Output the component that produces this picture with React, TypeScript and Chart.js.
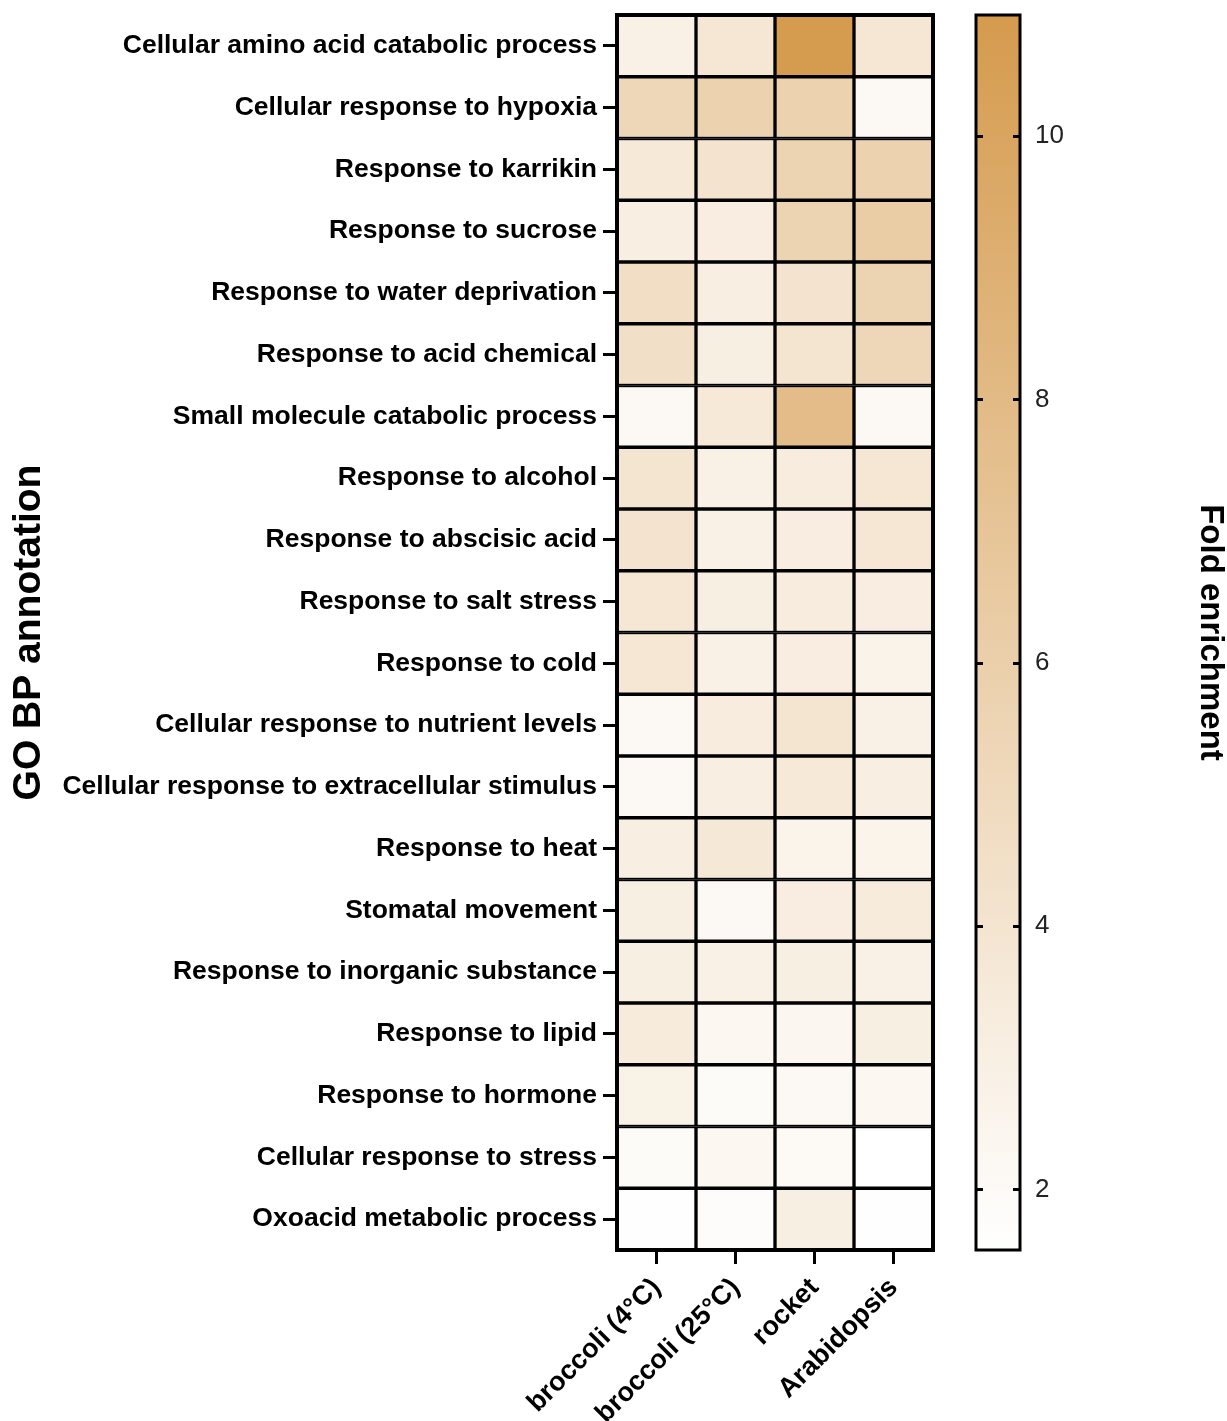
import React, { useEffect, useRef } from "react";
import { Chart, registerables } from "chart.js";

Chart.register(...registerables);

// ---- Data ----
const rowLabels = [
  "Cellular amino acid catabolic process",
  "Cellular response to hypoxia",
  "Response to karrikin",
  "Response to sucrose",
  "Response to water deprivation",
  "Response to acid chemical",
  "Small molecule catabolic process",
  "Response to alcohol",
  "Response to abscisic acid",
  "Response to salt stress",
  "Response to cold",
  "Cellular response to nutrient levels",
  "Cellular response to extracellular stimulus",
  "Response to heat",
  "Stomatal movement",
  "Response to inorganic substance",
  "Response to lipid",
  "Response to hormone",
  "Cellular response to stress",
  "Oxoacid metabolic process",
];

const columnLabels = ["broccoli (4°C)", "broccoli (25°C)", "rocket", "Arabidopsis"];

const broccoli4C = [2.9, 5.3, 3.6, 3.1, 4.6, 4.5, 2.2, 4.0, 4.1, 3.8, 3.8, 2.2, 2.2, 3.1, 3.0, 3.0, 3.4, 2.8, 1.9, 1.6];
const broccoli25C = [3.8, 5.8, 4.1, 3.2, 3.1, 3.0, 3.6, 2.9, 2.9, 3.0, 2.9, 3.3, 3.1, 3.7, 2.2, 2.9, 2.3, 1.9, 2.3, 1.8];
const rocket = [10.9, 5.8, 5.7, 5.7, 4.1, 4.0, 7.8, 3.3, 3.2, 3.3, 3.2, 4.0, 3.6, 2.6, 3.2, 3.0, 2.4, 2.2, 2.0, 3.0];
const arabidopsis = [3.8, 2.2, 5.8, 6.3, 5.7, 5.3, 2.1, 3.8, 3.8, 3.2, 2.7, 2.9, 3.1, 2.6, 3.4, 2.9, 3.0, 2.3, 1.55, 1.6];

const columnValues = [broccoli4C, broccoli25C, rocket, arabidopsis];

const colorbarTicks = [2, 4, 6, 8, 10];
const scaleMin = 1.54;
const scaleMax = 10.92;
const lowColor = [255, 255, 255];
const highColor = [213, 155, 78];

const FONT = "'Liberation Sans', Arial, Helvetica, sans-serif";

function colorFor(v: number): string {
  const t = Math.max(0, Math.min(1, (v - scaleMin) / (scaleMax - scaleMin)));
  const c = lowColor.map((l, i) => Math.round(l + (highColor[i] - l) * t));
  return `rgb(${c[0]},${c[1]},${c[2]})`;
}

const W = 1227;
const H = 1421;
const HEAT_W = 960;
const AREA_TOP = 15;
const AREA_BOTTOM = 1250;

const framePlugin = {
  id: "frame",
  afterDatasetsDraw(chart: any, _args: any, opts: any) {
    const { ctx, chartArea } = chart;
    ctx.save();
    ctx.strokeStyle = "#000";
    ctx.lineWidth = opts.width || 4;
    ctx.strokeRect(chartArea.left, chartArea.top, chartArea.right - chartArea.left, chartArea.bottom - chartArea.top);
    ctx.restore();
  },
};

const innerTicksPlugin = {
  id: "innerTicks",
  afterDatasetsDraw(chart: any) {
    const { ctx, chartArea } = chart;
    const y = chart.scales.y;
    ctx.save();
    ctx.strokeStyle = "#000";
    ctx.lineWidth = 3;
    colorbarTicks.forEach((v) => {
      const py = Math.round(y.getPixelForValue(v)) + 0.5;
      ctx.beginPath();
      ctx.moveTo(chartArea.left, py);
      ctx.lineTo(chartArea.left + 7, py);
      ctx.moveTo(chartArea.right - 7, py);
      ctx.lineTo(chartArea.right, py);
      ctx.stroke();
    });
    ctx.restore();
  },
};

export default function App() {
  const heatRef = useRef<HTMLCanvasElement | null>(null);
  const barRef = useRef<HTMLCanvasElement | null>(null);

  useEffect(() => {
    if (!heatRef.current || !barRef.current) return;

    const datasets = columnValues.map((vals, c) => ({
      label: columnLabels[c],
      data: vals.map(() => [c, c + 1]),
      backgroundColor: vals.map(colorFor),
      borderColor: "#000",
      borderWidth: 2,
      borderSkipped: false,
      barPercentage: 1,
      categoryPercentage: 1,
      grouped: false,
    }));

    const heat = new Chart(heatRef.current, {
      type: "bar",
      data: { labels: rowLabels, datasets: datasets as any },
      plugins: [framePlugin],
      options: {
        animation: false,
        responsive: false,
        indexAxis: "y",
        layout: { padding: { top: AREA_TOP, right: HEAT_W - 933, left: 0, bottom: 0 } },
        plugins: {
          legend: { display: false },
          tooltip: { enabled: false },
          frame: { width: 4 },
        } as any,
        scales: {
          x: {
            type: "linear",
            min: 0,
            max: columnLabels.length,
            afterBuildTicks: (s: any) => {
              s.ticks = columnLabels.map((_, i) => ({ value: i + 0.5 }));
            },
            afterFit: (s: any) => {
              s.height = H - AREA_BOTTOM;
              s.paddingLeft = 0;
              s.paddingRight = 0;
            },
            grid: {
              display: true,
              drawOnChartArea: false,
              drawTicks: true,
              tickLength: 14,
              lineWidth: 3,
              color: "#000",
            },
            border: { display: false },
            ticks: {
              autoSkip: false,
              minRotation: 45,
              maxRotation: 45,
              padding: 8,
              color: "#000",
              font: { family: FONT, size: 27, weight: "bold" },
              callback: (value: any) => columnLabels[Math.floor(Number(value))],
            },
          },
          y: {
            type: "category",
            afterFit: (s: any) => {
              s.width = 617;
              s.paddingTop = 0;
              s.paddingBottom = 0;
            },
            grid: {
              display: true,
              drawOnChartArea: false,
              drawTicks: true,
              tickLength: 14,
              lineWidth: 3,
              color: "#000",
              offset: false,
            },
            border: { display: false },
            ticks: {
              autoSkip: false,
              padding: 6,
              color: "#000",
              font: { family: FONT, size: 26.5, weight: "bold" },
            },
            title: {
              display: true,
              text: "GO BP annotation",
              color: "#000",
              font: { family: FONT, size: 39, weight: "bold", lineHeight: 1.2 },
              padding: { top: 6, bottom: 0 },
            },
          },
        },
      } as any,
    });

    const bar = new Chart(barRef.current, {
      type: "bar",
      data: {
        labels: ["Fold enrichment"],
        datasets: [
          {
            data: [[scaleMin, scaleMax]] as any,
            backgroundColor: (ctx: any) => {
              const chart = ctx.chart;
              if (!chart.chartArea) return colorFor(scaleMax);
              const ys = chart.scales.y;
              const g = chart.ctx.createLinearGradient(0, ys.getPixelForValue(scaleMin), 0, ys.getPixelForValue(scaleMax));
              g.addColorStop(0, colorFor(scaleMin));
              g.addColorStop(1, colorFor(scaleMax));
              return g;
            },
            borderWidth: 0,
            barPercentage: 1,
            categoryPercentage: 1,
          },
        ],
      },
      plugins: [innerTicksPlugin, framePlugin],
      options: {
        animation: false,
        responsive: false,
        layout: { padding: { top: AREA_TOP, left: 16, bottom: H - AREA_BOTTOM, right: 0 } },
        plugins: {
          legend: { display: false },
          tooltip: { enabled: false },
          frame: { width: 3 },
        } as any,
        scales: {
          x: { display: false },
          y: {
            position: "right",
            min: scaleMin,
            max: scaleMax,
            afterBuildTicks: (s: any) => {
              s.ticks = colorbarTicks.map((v) => ({ value: v }));
            },
            afterFit: (s: any) => {
              s.width = W - HEAT_W - 60;
              s.paddingTop = 0;
              s.paddingBottom = 0;
            },
            grid: { display: false, drawTicks: false },
            border: { display: false },
            ticks: {
              padding: 15,
              color: "#222",
              font: { family: FONT, size: 26 },
            },
            title: {
              display: true,
              text: "Fold enrichment",
              color: "#000",
              font: { family: FONT, size: 33, weight: "bold", lineHeight: 1 },
              padding: 0,
            },
          },
        },
      } as any,
    });

    return () => {
      heat.destroy();
      bar.destroy();
    };
  }, []);

  return (
    <div style={{ position: "absolute", left: 0, top: 0, width: W, height: H, background: "#fff" }}>
      <canvas ref={heatRef} width={HEAT_W} height={H} style={{ position: "absolute", left: 0, top: 0, display: "block" }} />
      <canvas
        ref={barRef}
        width={W - HEAT_W}
        height={H}
        style={{ position: "absolute", left: HEAT_W, top: 0, display: "block" }}
      />
    </div>
  );
}
